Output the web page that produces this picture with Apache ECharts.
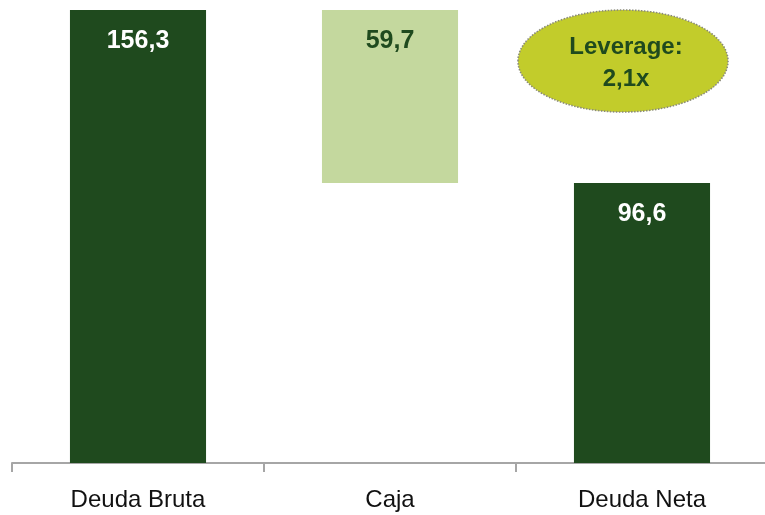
<!DOCTYPE html>
<html>
<head>
<meta charset="utf-8">
<script src="https://cdn.jsdelivr.net/npm/echarts@6/dist/echarts.min.js"></script>
<style>
  html, body { margin: 0; padding: 0; background: #ffffff; }
  #chart { width: 765px; height: 515px; }
</style>
</head>
<body>
<div id="chart"></div>
<script>
// Debt bridge: gross debt minus cash gives net debt
const categories = ['Deuda Bruta', 'Caja', 'Deuda Neta'];
const barValues = [156.3, 59.7, 96.6];
const barBases = [0, 96.6, 0];
const barColors = ['#1f4a1e', '#c4d89e', '#1f4a1e'];
const labelColors = ['#ffffff', '#1f4a1e', '#ffffff'];
const leverageText = ['Leverage:', '2,1x'];

const fmt = v => v.toFixed(1).replace('.', ',');
const baseFont = '"Liberation Sans", Arial, sans-serif';

const chart = echarts.init(document.getElementById('chart'), null, { renderer: 'canvas' });

chart.setOption({
  animation: false,
  grid: {
    left: 12, width: 756, top: 10, bottom: 52,
    containLabel: false,
    outerBoundsMode: 'none'
  },
  xAxis: {
    type: 'category',
    data: categories,
    boundaryGap: true,
    axisLine: { lineStyle: { color: '#a6a6a6', width: 2 } },
    axisTick: { show: true, length: 9, inside: false, lineStyle: { color: '#a6a6a6', width: 2 } },
    axisLabel: {
      color: '#111111',
      fontFamily: baseFont,
      fontSize: 24,
      margin: 25
    }
  },
  yAxis: {
    type: 'value',
    min: 0,
    max: 'dataMax',
    show: false,
    splitLine: { show: false }
  },
  series: [
    {
      name: 'base',
      type: 'bar',
      stack: 'bridge',
      data: barBases,
      itemStyle: { color: 'transparent' },
      silent: true,
      barWidth: '54%'
    },
    {
      name: 'valor',
      type: 'bar',
      stack: 'bridge',
      barWidth: '54%',
      data: barValues.map((v, i) => ({
        value: v,
        itemStyle: { color: barColors[i] },
        label: { color: labelColors[i] }
      })),
      label: {
        show: true,
        position: 'insideTop',
        distance: 19,
        fontFamily: baseFont,
        fontWeight: 'bold',
        fontSize: 25,
        formatter: p => fmt(p.value)
      }
    }
  ],
  graphic: [
    {
      type: 'ellipse',
      shape: { cx: 623, cy: 61, rx: 105, ry: 51 },
      style: { fill: '#c2cc2b', stroke: '#8a8a7a', lineWidth: 1.6, lineDash: [1.5, 1.5] },
      z: 10
    },
    {
      type: 'text',
      x: 626,
      y: 63,
      z: 11,
      style: {
        text: leverageText.join('\n'),
        align: 'center',
        verticalAlign: 'middle',
        fill: '#1f4a1e',
        fontFamily: baseFont,
        fontWeight: 'bold',
        fontSize: 24,
        lineHeight: 32
      }
    }
  ]
});
</script>
</body>
</html>
